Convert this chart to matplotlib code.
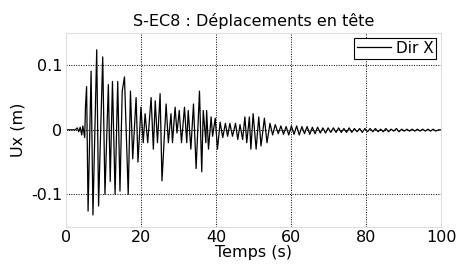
import numpy as np
import matplotlib.pyplot as plt

# extrema du deplacement en tete
temps = [0, 2.5, 3.0, 3.4, 3.8, 4.2, 4.5, 5.0, 5.2, 5.5, 5.9, 6.7, 7.2, 8.2, 8.7, 9.8, 10.4,
         11.3, 11.8, 12.4, 13.1, 13.8, 14.4, 15.0, 15.6, 16.6, 17.2, 17.8, 18.7, 19.2,
         20.0, 20.6, 21.1, 21.8, 22.7, 23.3, 23.8, 24.4, 25.1, 25.6, 26.7, 27.3, 28.0,
         28.4, 29.1, 29.6, 30.2, 30.8, 31.6, 32.2, 32.6, 33.3, 34.0, 34.7, 35.6, 36.2,
         36.6, 37.3, 37.5, 38.0, 38.7, 39.1, 39.8, 40.4, 41.1, 41.8, 42.5, 43.1, 43.7,
         44.4, 45.2, 45.8, 46.4, 47.1, 47.7, 48.2, 48.9, 49.3, 49.9, 50.7, 51.4, 52.0,
         52.9, 53.6, 54.4, 55.1, 55.8, 56.6]
ux = [0, 0, 0.003, -0.003, 0.004, -0.008, 0.006, -0.012, 0.035, 0.067, -0.126, 0.091,
      -0.132, 0.124, -0.118, 0.113, -0.10, 0.070, -0.08, 0.075, -0.10, 0.075, -0.095,
      0.06, 0.082, -0.10, 0.06, -0.045, 0.05, -0.05, 0.035, -0.02, 0.025, -0.02, 0.05,
      -0.03, 0.045, -0.02, 0.056, -0.079, 0.04, -0.02, 0.025, -0.02, 0.035, -0.005, 0.03,
      -0.02, 0.035, -0.02, 0.03, -0.03, 0.04, -0.06, 0.06, -0.065, 0.03, -0.02, 0.03,
      -0.03, 0.02, -0.01, 0.018, -0.03, 0.012, -0.012, 0.01, -0.01, 0.01, -0.01, 0.01,
      -0.015, 0.008, -0.015, 0.02, -0.02, 0.02, -0.03, 0.025, -0.03, 0.02, -0.025, 0.018,
      -0.02, 0.01, -0.008, 0.008, -0.006]

# queue du signal (petites oscillations)
temps_queue = [57.3, 58.0, 58.7, 59.4, 60.1, 60.8, 61.5, 62.2, 62.9, 63.6, 64.3, 65.0,
               65.7, 66.4, 67.1, 67.8, 68.5, 69.2, 69.9, 70.6, 71.3, 72.0, 72.7, 73.4,
               74.1, 74.8, 75.5, 76.2, 76.9, 77.6, 78.3, 79.0, 79.7, 80.4, 81.1, 81.8,
               82.5, 83.2, 83.9, 84.6, 85.3, 86.0, 86.7, 87.4, 88.1, 88.8, 89.5, 90.2,
               90.9, 91.6, 92.3, 93.0, 93.7, 94.4, 95.1, 95.8, 96.5, 97.2, 97.9, 98.6,
               99.3, 100.0]
ux_queue = [0.006, -0.007, 0.005, -0.008, 0.006, -0.007, 0.006, -0.008, 0.005, -0.006,
            0.005, -0.007, 0.004, -0.006, 0.004, -0.005, 0.003, -0.005, 0.003, -0.004,
            0.003, -0.004, 0.003, -0.004, 0.002, -0.004, 0.003, -0.004, 0.002, -0.003,
            0.002, -0.004, 0.002, -0.003, 0.002, -0.003, 0.002, -0.003, 0.001, -0.003,
            0.002, -0.003, 0.001, -0.002, 0.002, -0.003, 0.001, -0.002, 0.001, -0.002,
            0.001, -0.002, 0.001, -0.002, 0.001, -0.002, 0.001, -0.002, 0.001, -0.002,
            0.0, 0.0]

t = np.array(temps + temps_queue)
u = np.array(ux + ux_queue)

fig = plt.figure(figsize=(4.58, 2.73), dpi=100)
ax = fig.add_axes([0.144, 0.17, 0.819, 0.709])
ax.plot(t, u, color="black", lw=0.9, label="Dir X")

ax.set_xlim(0, 100)
ax.set_ylim(-0.15, 0.15)
ax.set_xticks([0, 20, 40, 60, 80, 100])
ax.set_yticks([-0.1, 0, 0.1])
ax.set_yticklabels(["-0.1", "0", "0.1"])
ax.tick_params(length=0, labelsize=11.5, pad=2.5)
ax.grid(True, color="black", linestyle=(0, (1, 1.5)), lw=0.7)
for s in ax.spines.values():
    s.set_color("#dddddd")

ax.set_title("S-EC8 : Déplacements en tête", fontsize=11.5, pad=5)
ax.set_xlabel("Temps (s)", fontsize=11.5, labelpad=0)
ax.set_ylabel("Ux (m)", fontsize=11.5, labelpad=4)

leg = ax.legend(loc="upper right", fontsize=11, fancybox=False, framealpha=1,
                handlelength=2.2, handletextpad=0.3, borderpad=0.2,
                borderaxespad=0.3)
leg.get_frame().set_edgecolor("black")
leg.get_frame().set_linewidth(0.8)

plt.savefig("out.png", dpi=100)
